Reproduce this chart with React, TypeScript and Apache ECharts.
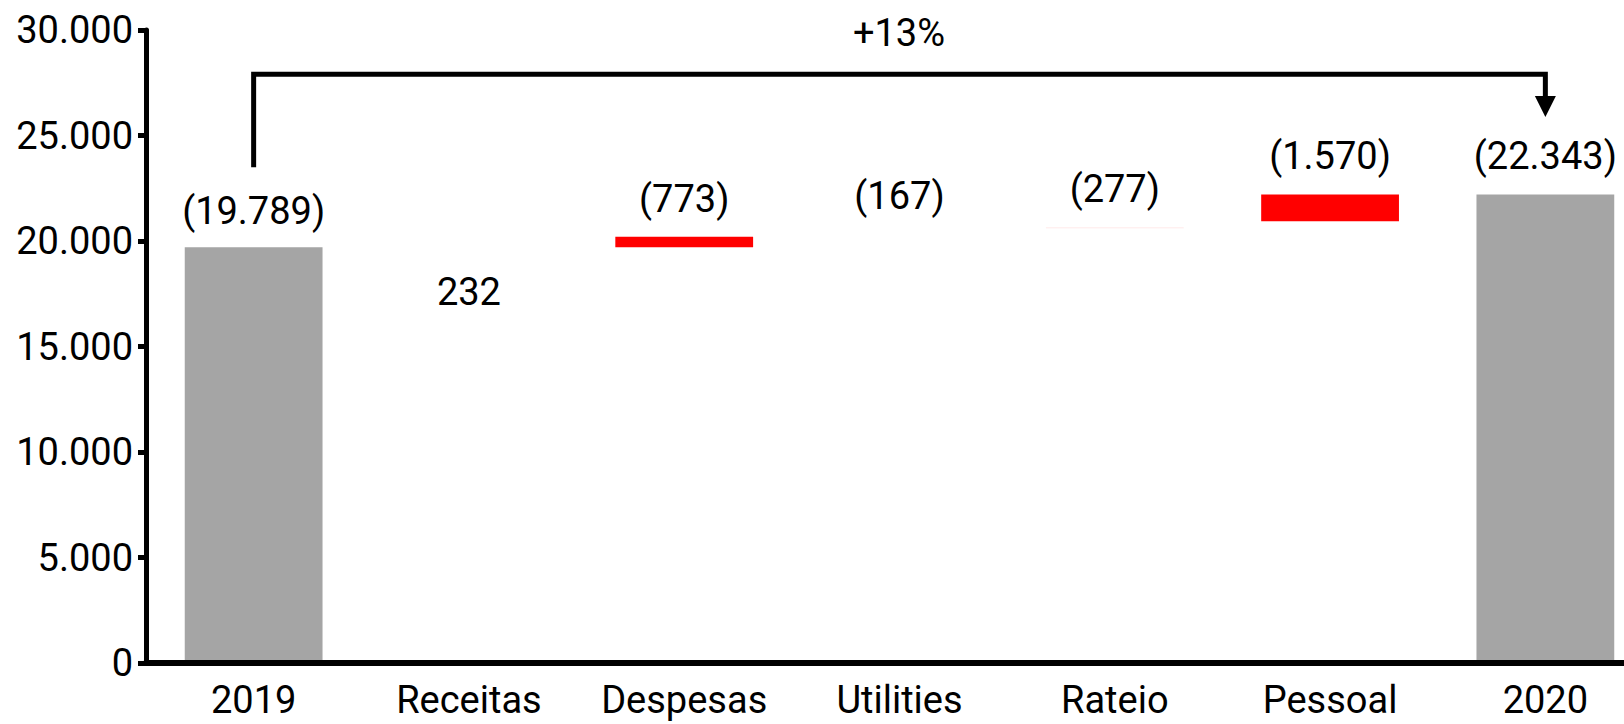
import React, { useEffect, useRef } from "react";
import * as echarts from "echarts";

const categories = ["2019", "Receitas", "Despesas", "Utilities", "Rateio", "Pessoal", "2020"];
// invisible offset under each floating bar
const baseValues: (number | string)[] = ["-", "-", 19700, "-", 20600, 20940, "-"];
// floating change bars (as drawn)
const changeValues: (number | string)[] = ["-", "-", 500, "-", 40, 1260, "-"];
// totals (grey columns)
const totalValues: (number | string)[] = [19700, "-", "-", "-", "-", "-", 22200];
// data labels as printed and the level they sit at
const labelTexts = ["(19.789)", "232", "(773)", "(167)", "(277)", "(1.570)", "(22.343)"];
const labelLevels = [21420, 17600, 22010, 22130, 22460, 24030, 24030];
// bracket from 2019 to 2020
const bracketPoints: [number, number][] = [[0, 23500], [0, 27900], [6, 27900], [6, 26370]];
const bracketText = "+13%";
const yTicks = { min: 0, max: 30000, interval: 5000 };

const changeColors = ["#FF0000", "#FF0000", "#FF0000", "#FF0000", "rgba(255,0,0,0.12)", "#FF0000", "#FF0000"];

const FONT = "Roboto";
const fmt = (v: number) => String(v).replace(/\B(?=(\d{3})+(?!\d))/g, ".");

export default function App() {
  const ref = useRef<HTMLDivElement>(null);
  useEffect(() => {
    if (!ref.current) return;
    const chart = echarts.init(ref.current, undefined, { renderer: "svg" });
    chart.setOption({
      animation: false,
      backgroundColor: "#ffffff",
      grid: { left: 146, right: 0, top: 30, bottom: 61, containLabel: false },
      xAxis: {
        type: "category",
        data: categories,
        z: 10,
        axisLine: { lineStyle: { color: "#000", width: 6 } },
        axisTick: { show: false },
        axisLabel: { color: "#000", fontSize: 38, fontFamily: FONT, margin: 18, interval: 0 },
      },
      yAxis: {
        type: "value",
        min: yTicks.min,
        max: yTicks.max,
        interval: yTicks.interval,
        z: 10,
        axisLine: { show: true, lineStyle: { color: "#000", width: 5 } },
        axisTick: { show: true, length: 8, lineStyle: { color: "#000", width: 5 } },
        splitLine: { show: false },
        axisLabel: { color: "#000", fontSize: 38, fontFamily: FONT, margin: 13, formatter: (v: number) => fmt(v) },
      },
      series: [
        {
          type: "bar",
          stack: "w",
          barWidth: "64%",
          data: baseValues,
          itemStyle: { color: "transparent" },
          silent: true,
        },
        {
          type: "bar",
          stack: "w",
          barWidth: "64%",
          data: changeValues.map((v, i) => ({ value: v, itemStyle: { color: changeColors[i] } })),
        },
        {
          type: "bar",
          stack: "w",
          barWidth: "64%",
          data: totalValues,
          itemStyle: { color: "#A5A5A5" },
        },
        {
          type: "scatter",
          symbolSize: 1,
          itemStyle: { color: "transparent", opacity: 1 },
          data: labelLevels.map((v, i) => [i, v]),
          label: {
            show: true,
            position: "inside",
            color: "#000",
            opacity: 1,
            fontSize: 38,
            fontFamily: FONT,
            formatter: (p: any) => labelTexts[p.dataIndex],
          },
          z: 5,
        },
        {
          type: "line",
          data: bracketPoints.map((p, i) =>
            i === bracketPoints.length - 1
              ? { value: p, symbol: "triangle", symbolSize: [21, 21], symbolRotate: 180, itemStyle: { color: "#000" } }
              : { value: p, symbol: "none" }
          ),
          lineStyle: { color: "#000", width: 5, join: "miter", cap: "butt" },
          itemStyle: { color: "#000" },
          z: 6,
        },
      ],
      graphic: [
        {
          type: "text",
          x: 899,
          y: 33,
          style: {
            text: bracketText,
            fontSize: 38,
            fontFamily: FONT,
            fill: "#000",
            align: "center",
            verticalAlign: "middle",
          },
        },
      ],
    });
    return () => chart.dispose();
  }, []);
  return (
    <div
      ref={ref}
      style={{ position: "fixed", left: 0, top: 0, width: 1653, height: 724, background: "#fff" }}
    />
  );
}
